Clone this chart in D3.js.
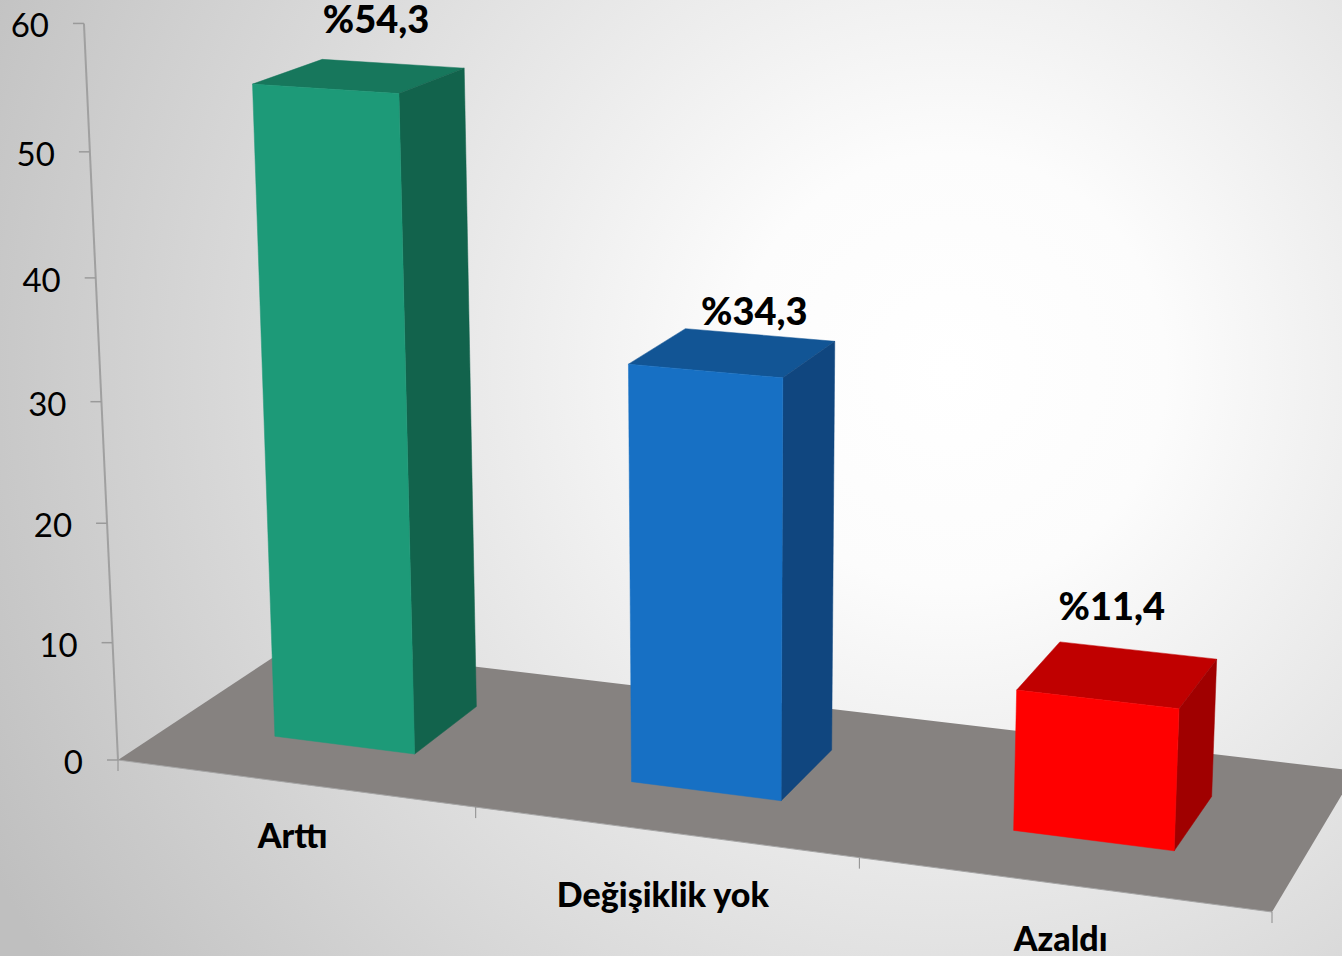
<!DOCTYPE html>
<html>
<head>
<meta charset="utf-8">
<script src="https://cdn.jsdelivr.net/npm/d3@7"></script>
<style>
  body { margin: 0; overflow: hidden; background: #fff; }
  text { font-family: Lato, sans-serif; fill: #000; }
</style>
</head>
<body>
<div id="chart"></div>
<script>
// chart values
var categories = ["Arttı", "Değişiklik yok", "Azaldı"];
var values = [54.3, 34.3, 11.4];
var valueLabels = ["%54,3", "%34,3", "%11,4"];
var yTicks = [0, 10, 20, 30, 40, 50, 60];

var frontColors = ["#1d9a78", "#1770c4", "#ff0000"];
var topColors = ["#17775c", "#125595", "#c00000"];
var sideColors = ["#12634c", "#10467f", "#a00000"];

var width = 1342, height = 956;

// scales: category -> floor x (0..1), value -> height (0..1), depth (0..1)
var x = d3.scaleBand().domain(categories).range([-0.001, 0.999]).paddingInner(0.6).paddingOuter(0.3);
var y = d3.scaleLinear().domain([0, 60]).range([0, 1]);
var depthFront = 0.3, depthBack = 0.695;

// camera: floor corners on screen + vanishing point of the vertical axis
var floorQuad = [[118, 760], [1272, 912], [1356, 771], [292, 645]];
var vanish = [730, 14000], heightW = -0.0527;

function floorCamera(q) {
  var dx1 = q[1][0] - q[2][0], dx2 = q[3][0] - q[2][0], sx = q[0][0] - q[1][0] + q[2][0] - q[3][0],
      dy1 = q[1][1] - q[2][1], dy2 = q[3][1] - q[2][1], sy = q[0][1] - q[1][1] + q[2][1] - q[3][1],
      den = dx1 * dy2 - dx2 * dy1,
      g = (sx * dy2 - dx2 * sy) / den,
      h = (dx1 * sy - sx * dy1) / den;
  return {
    a: q[1][0] - q[0][0] + g * q[1][0], b: q[3][0] - q[0][0] + h * q[3][0], c: q[0][0],
    d: q[1][1] - q[0][1] + g * q[1][1], e: q[3][1] - q[0][1] + h * q[3][1], f: q[0][1],
    g: g, h: h
  };
}
var cam = floorCamera(floorQuad);

// u along the categories, v height, z depth
function project(u, v, z) {
  var w = cam.g * u + cam.h * z + 1 + heightW * v;
  return [
    (cam.a * u + cam.b * z + cam.c + heightW * v * vanish[0]) / w,
    (cam.d * u + cam.e * z + cam.f + heightW * v * vanish[1]) / w
  ];
}

var svg = d3.select("#chart").append("svg")
  .attr("width", width)
  .attr("height", height)
  .style("display", "block");

var grad = svg.append("defs").append("radialGradient")
  .attr("id", "bg")
  .attr("gradientUnits", "userSpaceOnUse")
  .attr("cx", 950).attr("cy", 370).attr("r", 1080);
grad.append("stop").attr("offset", "0%").attr("stop-color", "#ffffff");
grad.append("stop").attr("offset", "20%").attr("stop-color", "#fcfcfc");
grad.append("stop").attr("offset", "100%").attr("stop-color", "#bfbfbf");

svg.append("rect").attr("width", width).attr("height", height).attr("fill", "url(#bg)");

var poly = d3.line();

// floor
svg.append("path")
  .attr("d", poly([project(0, 0, 0), project(1, 0, 0), project(1, 0, 1), project(0, 0, 1)]) + "Z")
  .attr("fill", "#868280");

// front edge of the floor with category ticks
svg.append("path")
  .attr("d", poly([project(0, 0, 0), project(1, 0, 0)]))
  .attr("stroke", "#a6a6a6").attr("stroke-width", 1).attr("fill", "none");

d3.range(categories.length + 1).forEach(function(i) {
  var p = project(i / categories.length, 0, 0);
  svg.append("line")
    .attr("x1", p[0]).attr("y1", p[1])
    .attr("x2", p[0]).attr("y2", p[1] + 11)
    .attr("stroke", "#8c8c8c").attr("stroke-width", 1);
});

// value axis
svg.append("path")
  .attr("d", poly([project(0, y(0), 0), project(0, y(60), 0)]))
  .attr("stroke", "#a0a0a0").attr("stroke-width", 2).attr("fill", "none");

yTicks.forEach(function(t) {
  var p = project(0, y(t), 0);
  svg.append("line")
    .attr("x1", p[0] - 11).attr("y1", p[1])
    .attr("x2", p[0]).attr("y2", p[1])
    .attr("stroke", "#9a9a9a").attr("stroke-width", 1.5);
  svg.append("text")
    .attr("x", p[0] - 35)
    .attr("y", p[1] + 14)
    .attr("text-anchor", "end")
    .attr("font-size", 33)
    .text(t);
});

// bars
var labelShift = [[16.5, -43.5], [21.5, -27.5], [-6, -54.5]];
var catShift = [65, 75, 67];

function face(points, color) {
  svg.append("path")
    .attr("d", poly(points) + "Z")
    .attr("fill", color)
    .attr("stroke", color)
    .attr("stroke-width", 0.5);
}

categories.forEach(function(cat, i) {
  var u0 = x(cat), u1 = x(cat) + x.bandwidth(), v = y(values[i]);
  var z0 = depthFront, z1 = depthBack;

  face([project(u0, v, z0), project(u1, v, z0), project(u1, v, z1), project(u0, v, z1)], topColors[i]);
  face([project(u1, 0, z0), project(u1, v, z0), project(u1, v, z1), project(u1, 0, z1)], sideColors[i]);
  face([project(u0, 0, z0), project(u1, 0, z0), project(u1, v, z0), project(u0, v, z0)], frontColors[i]);

  var topMid = project((u0 + u1) / 2, v, (z0 + z1) / 2);
  svg.append("text")
    .attr("x", topMid[0] + labelShift[i][0])
    .attr("y", topMid[1] + labelShift[i][1])
    .attr("text-anchor", "middle")
    .attr("font-size", 38)
    .attr("font-weight", 900)
    .text(valueLabels[i]);

  var base = project((u0 + u1) / 2, 0, 0);
  svg.append("text")
    .attr("x", base[0])
    .attr("y", base[1] + catShift[i])
    .attr("text-anchor", "middle")
    .attr("font-size", 34)
    .attr("font-weight", 900)
    .text(cat);
});
</script>
</body>
</html>
